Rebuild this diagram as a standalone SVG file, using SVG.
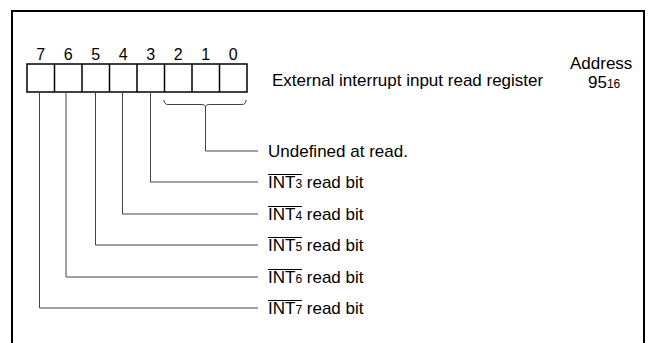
<svg xmlns="http://www.w3.org/2000/svg" width="648" height="343" viewBox="0 0 648 343">
<style>
text{font-family:"Liberation Sans",Arial,sans-serif;font-size:17px;fill:#000}
.d{font-size:16px;text-anchor:middle}
.s{font-size:12px}
.c{fill:none;stroke:#444;stroke-width:1}
.b{fill:#fff;stroke:#000;stroke-width:1.5}
.o{stroke:#000;stroke-width:1}
</style>
<rect width="648" height="343" fill="#fff"/>
<path id="frame" d="M12,343 V11 H644 V343" fill="none" stroke="#000" stroke-width="2"/>
<g id="register">
<rect class="b" x="27" y="64" width="220" height="28"/>
<path d="M54.5,64V92M82,64V92M109.5,64V92M137,64V92M164.5,64V92M192,64V92M219.5,64V92" stroke="#000" stroke-width="1.5"/>
<text class="d" x="40.75" y="60">7</text>
<text class="d" x="68.25" y="60">6</text>
<text class="d" x="95.75" y="60">5</text>
<text class="d" x="123.25" y="60">4</text>
<text class="d" x="150.75" y="60">3</text>
<text class="d" x="178.25" y="60">2</text>
<text class="d" x="205.75" y="60">1</text>
<text class="d" x="233.25" y="60">0</text>
</g>
<g id="title"><text x="272" y="86">External interrupt input read register</text></g>
<g id="address"><text x="570" y="69">Address</text><text x="588" y="88">95<tspan class="s">16</tspan></text></g>
<g id="connectors">
<path class="c" d="M164,100 Q164,104.5 168,104.5 H201 Q205.5,104.5 205.5,107 Q205.5,104.5 210,104.5 H242 Q246,104.5 246,100"/>
<path class="c" d="M205.5,107 V151 H258"/>
<path class="c" d="M150.5,92 V182 H258"/>
<path class="c" d="M122.5,92 V214 H258"/>
<path class="c" d="M95.5,92 V245 H258"/>
<path class="c" d="M66,92 V277 H258"/>
<path class="c" d="M39.5,92 V308 H258"/>
</g>
<g id="undefined"><text x="268" y="157">Undefined at read.</text></g>
<g id="int3"><text x="268" y="188">INT<tspan class="s">3</tspan> read bit</text><path class="o" d="M268,174.5H302"/></g>
<g id="int4"><text x="268" y="220">INT<tspan class="s">4</tspan> read bit</text><path class="o" d="M268,206.5H302"/></g>
<g id="int5"><text x="268" y="251">INT<tspan class="s">5</tspan> read bit</text><path class="o" d="M268,237.5H302"/></g>
<g id="int6"><text x="268" y="283">INT<tspan class="s">6</tspan> read bit</text><path class="o" d="M268,269.5H302"/></g>
<g id="int7"><text x="268" y="314">INT<tspan class="s">7</tspan> read bit</text><path class="o" d="M268,300.5H302"/></g>
</svg>
